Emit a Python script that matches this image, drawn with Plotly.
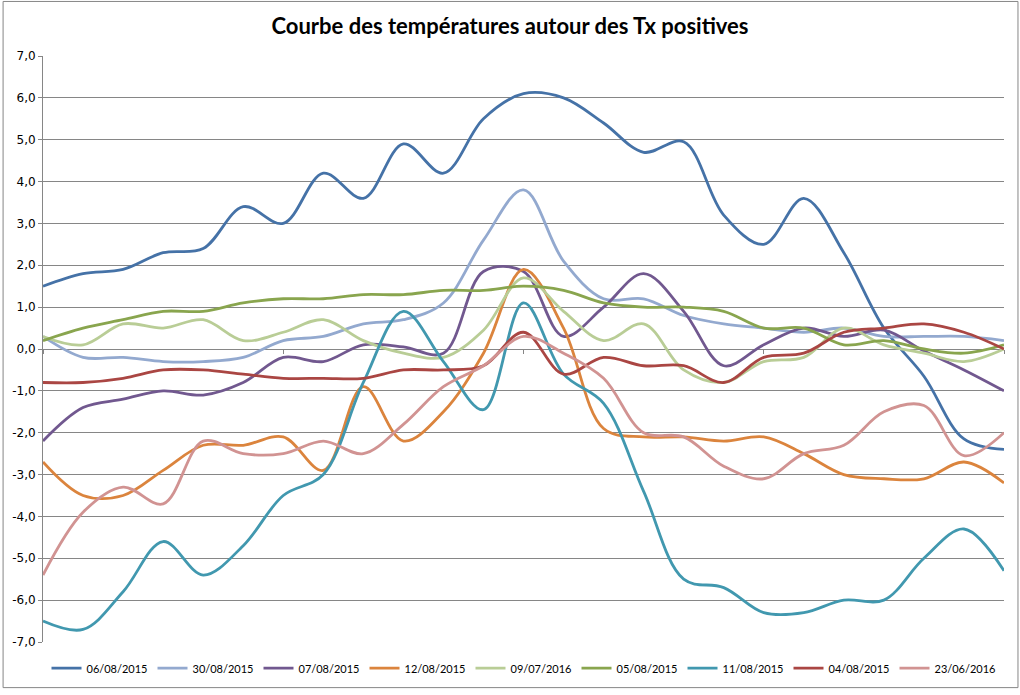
import plotly.graph_objects as go

# category index (25 hours around the Tx peak, no labels shown)
points = list(range(25))

s_06_08_2015 = [1.5, 1.8, 1.9, 2.3, 2.4, 3.4, 3.0, 4.2, 3.6, 4.9, 4.2, 5.5, 6.1,
                6.0, 5.4, 4.7, 4.95, 3.2, 2.5, 3.6, 2.3, 0.5, -0.65, -2.15, -2.4]
s_30_08_2015 = [0.3, -0.2, -0.2, -0.3, -0.3, -0.2, 0.2, 0.3, 0.6, 0.7, 1.1, 2.6, 3.8,
                2.1, 1.2, 1.2, 0.8, 0.6, 0.5, 0.4, 0.5, 0.3, 0.3, 0.3, 0.2]
s_07_08_2015 = [-2.2, -1.4, -1.2, -1.0, -1.1, -0.8, -0.2, -0.3, 0.1, 0.05, -0.1, 1.85, 1.85,
                0.3, 1.0, 1.8, 0.9, -0.4, 0.1, 0.5, 0.3, 0.45, -0.05, -0.5, -1.0]
s_12_08_2015 = [-2.7, -3.5, -3.5, -2.9, -2.3, -2.3, -2.1, -2.9, -0.9, -2.2, -1.5, -0.1, 1.9,
                0.5, -1.9, -2.1, -2.1, -2.2, -2.1, -2.5, -3.0, -3.1, -3.1, -2.7, -3.2]
s_09_07_2016 = [0.3, 0.1, 0.6, 0.5, 0.7, 0.2, 0.4, 0.7, 0.2, -0.1, -0.2, 0.45, 1.7,
                0.9, 0.2, 0.6, -0.5, -0.8, -0.3, -0.2, 0.5, 0.1, -0.1, -0.3, 0.0]
s_05_08_2015 = [0.2, 0.5, 0.7, 0.9, 0.9, 1.1, 1.2, 1.2, 1.3, 1.3, 1.4, 1.4, 1.5,
                1.4, 1.1, 1.0, 1.0, 0.9, 0.5, 0.5, 0.1, 0.2, 0.0, -0.1, 0.1]
s_11_08_2015 = [-6.5, -6.7, -5.8, -4.6, -5.4, -4.7, -3.5, -3.0, -0.8, 0.9, -0.3, -1.45, 1.1,
                -0.6, -1.3, -3.4, -5.5, -5.7, -6.3, -6.3, -6.0, -6.0, -5.0, -4.3, -5.3]
s_04_08_2015 = [-0.8, -0.8, -0.7, -0.5, -0.5, -0.6, -0.7, -0.7, -0.7, -0.5, -0.5, -0.4, 0.4,
                -0.6, -0.2, -0.4, -0.4, -0.8, -0.2, -0.1, 0.4, 0.5, 0.6, 0.4, 0.0]
s_23_06_2016 = [-5.4, -3.9, -3.3, -3.7, -2.2, -2.5, -2.5, -2.2, -2.5, -1.8, -0.9, -0.4, 0.3,
                -0.1, -0.7, -2.0, -2.1, -2.8, -3.1, -2.5, -2.3, -1.5, -1.35, -2.55, -2.0]

series_names = ["06/08/2015", "30/08/2015", "07/08/2015", "12/08/2015", "09/07/2016",
                "05/08/2015", "11/08/2015", "04/08/2015", "23/06/2016"]
series_values = [s_06_08_2015, s_30_08_2015, s_07_08_2015, s_12_08_2015, s_09_07_2016,
                 s_05_08_2015, s_11_08_2015, s_04_08_2015, s_23_06_2016]
series_colors = ["#4572A7", "#93A9CF", "#71588F", "#DB843D", "#B9CD96",
                 "#89A54E", "#4198AF", "#AA4643", "#D19392"]

y_ticks = [-7, -6, -5, -4, -3, -2, -1, 0, 1, 2, 3, 4, 5, 6, 7]
y_tick_labels = [f"{v:.1f}".replace(".", ",") for v in y_ticks]
x_ticks = [0, 6, 12, 18, 24]

FONT = "Lato"
W, H = 1020, 695
ML, MR, MT, MB = 41, 16, 56, 48

fig = go.Figure()
for name, vals, col in zip(series_names, series_values, series_colors):
    fig.add_trace(go.Scatter(
        x=points, y=vals, name=name, mode="lines",
        line=dict(color=col, width=2.8, shape="spline", smoothing=1.0),
        hoverinfo="x+y+name",
    ))

pw = W - ML - MR
ph = H - MT - MB
fig.add_shape(type="rect", xref="paper", yref="paper",
              x0=(1 - ML) / pw, x1=(W - ML - 2) / pw,
              y0=-(MB - 2) / ph, y1=(H - MB - 1) / ph,
              line=dict(color="#868686", width=1), layer="below")

fig.update_layout(
    width=W, height=H,
    margin=dict(l=ML, r=MR, t=MT, b=MB),
    paper_bgcolor="white", plot_bgcolor="white",
    separators=", ",
    title=dict(text="<b>Courbe des températures autour des Tx positives</b>",
               x=0.5, xanchor="center", y=0.962, yanchor="middle",
               font=dict(family=FONT, size=22, color="black")),
    font=dict(family=FONT, size=11, color="black"),
    xaxis=dict(range=[0, 24], showgrid=False, zeroline=False, showline=False,
               tickvals=x_ticks, ticks="outside", ticklen=4, tickcolor="#868686",
               showticklabels=False, anchor="free", position=0.5, fixedrange=True),
    yaxis=dict(range=[-7, 7], tickvals=y_ticks, ticktext=y_tick_labels,
               showgrid=True, gridcolor="#868686", gridwidth=1,
               zeroline=False, showline=True, linecolor="#868686", linewidth=1,
               ticks="outside", ticklen=4, tickcolor="#868686",
               tickfont=dict(family="DejaVu Sans", size=12, color="black"), fixedrange=True),
    legend=dict(orientation="h", x=0.5, xanchor="center", y=-0.02, yanchor="top",
                font=dict(family=FONT, size=11, color="black"),
                itemwidth=30, tracegroupgap=0),
    showlegend=True,
)

fig.write_html("out.html", config={"displayModeBar": False},
               post_script="document.body.style.margin='0';document.body.style.overflow='hidden';")
